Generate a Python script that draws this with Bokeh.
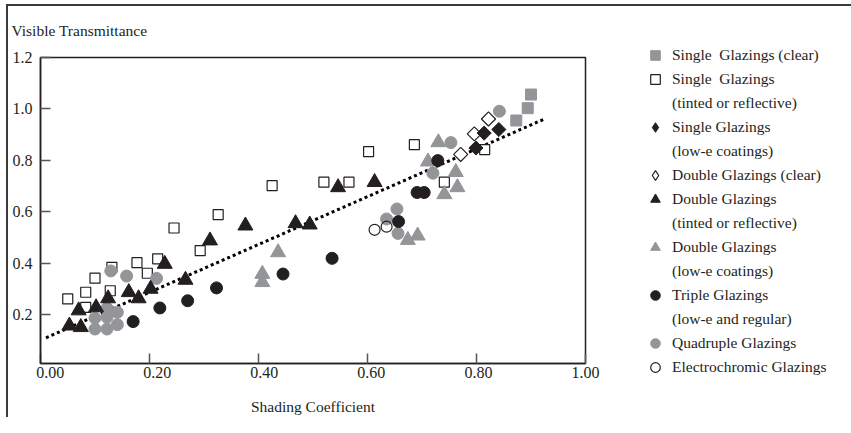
import math
from bokeh.plotting import figure
from bokeh.models import (Range1d, FixedTicker, NumeralTickFormatter, Legend,
                          LegendItem, LinearAxis)
from bokeh.embed import file_html
from bokeh.resources import INLINE

# ---------------- data ----------------
single_clear_x = [0.873, 0.894, 0.900]
single_clear_y = [0.955, 1.003, 1.056]

single_tinted_x = [0.050, 0.083, 0.083, 0.100, 0.128, 0.131, 0.177, 0.196, 0.215, 0.245,
                   0.293, 0.326, 0.425, 0.520, 0.566, 0.602, 0.686, 0.741, 0.815]
single_tinted_y = [0.261, 0.228, 0.287, 0.342, 0.293, 0.384, 0.402, 0.361, 0.417, 0.537,
                   0.449, 0.589, 0.702, 0.715, 0.715, 0.834, 0.861, 0.715, 0.842]

single_lowe_x = [0.799, 0.814, 0.841]
single_lowe_y = [0.848, 0.906, 0.920]

double_clear_x = [0.771, 0.796, 0.822]
double_clear_y = [0.823, 0.903, 0.961]

double_tinted_x = [0.053, 0.070, 0.074, 0.102, 0.124, 0.162, 0.180, 0.202, 0.228, 0.266,
                   0.311, 0.376, 0.468, 0.494, 0.546, 0.613]
double_tinted_y = [0.157, 0.216, 0.151, 0.228, 0.263, 0.287, 0.263, 0.300, 0.397, 0.335,
                   0.488, 0.546, 0.555, 0.550, 0.695, 0.715]

double_lowe_x = [0.407, 0.407, 0.436, 0.674, 0.692, 0.711, 0.730, 0.741, 0.762, 0.765]
double_lowe_y = [0.326, 0.358, 0.442, 0.490, 0.507, 0.795, 0.870, 0.668, 0.754, 0.695]

triple_x = [0.170, 0.219, 0.270, 0.323, 0.445, 0.535, 0.657, 0.691, 0.704, 0.729]
triple_y = [0.173, 0.226, 0.254, 0.304, 0.358, 0.419, 0.562, 0.675, 0.675, 0.799]

quad_x = [0.100, 0.122, 0.141, 0.100, 0.122, 0.141, 0.122, 0.129, 0.158, 0.213,
          0.635, 0.654, 0.656, 0.720, 0.753, 0.842]
quad_y = [0.144, 0.144, 0.161, 0.187, 0.190, 0.209, 0.225, 0.370, 0.350, 0.341,
          0.572, 0.611, 0.516, 0.750, 0.869, 0.991]

electro_x = [0.613, 0.635]
electro_y = [0.530, 0.542]

trend_x = [0.010, 0.927]
trend_y = [0.110, 0.963]

x_ticks = [0.0, 0.2, 0.4, 0.6, 0.8, 1.0]
y_ticks = [0.2, 0.4, 0.6, 0.8, 1.0, 1.2]

labels = [
    "Single  Glazings (clear)",
    "Single  Glazings\n(tinted or reflective)",
    "Single Glazings\n(low-e coatings)",
    "Double Glazings (clear)",
    "Double Glazings\n(tinted or reflective)",
    "Double Glazings\n(low-e coatings)",
    "Triple Glazings\n(low-e and regular)",
    "Quadruple Glazings",
    "Electrochromic Glazings",
]

# ---------------- style ----------------
FONT = "Liberation Serif"
BLACK = "#231f20"
GRAY = "#939598"
FRAME = "#3a3a3a"

p = figure(frame_width=545, frame_height=306, output_backend="svg",
           toolbar_location=None,
           x_range=Range1d(0.0, 1.0), y_range=Range1d(0.01, 1.2),
           min_border_left=40, min_border_right=258, min_border_top=57,
           min_border_bottom=54)
p.xgrid.visible = False
p.ygrid.visible = False
p.outline_line_color = BLACK
p.outline_line_width = 1.5
p.background_fill_color = "white"
p.border_fill_color = None
# the outer figure box (top and left edges) seen in the reference
p.styles = {
    "background": (
        f"linear-gradient({FRAME},{FRAME}) 6px 4px / calc(100% - 6px) 2px no-repeat, "
        f"linear-gradient({FRAME},{FRAME}) 6px 4px / 2px calc(100% - 4px) no-repeat, "
        "white"
    )
}

p.title.text = "Visible Transmittance"
p.title.align = "left"
p.title.offset = -29
p.title.standoff = 37
p.title.text_font = FONT
p.title.text_font_size = "15.5px"
p.title.text_font_style = "normal"
p.title.text_color = BLACK

main_x = p.xaxis[0]
main_y = p.yaxis[0]
for ax in (main_x, main_y):
    ax.axis_line_color = BLACK
    ax.axis_line_width = 1.5
    ax.major_tick_in = 10
    ax.major_tick_out = 0
    ax.major_tick_line_color = "#555555"
    ax.major_tick_line_width = 1.5
    ax.minor_tick_line_color = None
    ax.major_label_text_font = FONT
    ax.major_label_text_font_size = "16px"
    ax.major_label_text_color = BLACK

main_x.ticker = FixedTicker(ticks=x_ticks)
main_y.ticker = FixedTicker(ticks=y_ticks)
main_y.formatter = NumeralTickFormatter(format="0.0")
main_y.major_label_standoff = 8
# main x axis draws the inward ticks only; its labels are not painted
main_x.major_label_text_color = None
main_x.major_label_text_font_size = "1px"
main_x.major_label_standoff = 0

# companion axis carrying the x tick labels, set a little right of each tick
p.extra_x_ranges = {"xlab": Range1d(-0.018, 1.0)}
xlab = LinearAxis(x_range_name="xlab", ticker=FixedTicker(ticks=x_ticks),
                  formatter=NumeralTickFormatter(format="0.00"),
                  axis_line_color=None, major_tick_line_color=None,
                  minor_tick_line_color=None, major_tick_in=0, major_tick_out=0,
                  major_label_standoff=3, major_label_text_font=FONT,
                  major_label_text_font_size="16px", major_label_text_color=BLACK,
                  axis_label="Shading Coefficient", axis_label_text_font=FONT,
                  axis_label_text_font_size="15.5px",
                  axis_label_text_font_style="normal",
                  axis_label_text_color=BLACK, axis_label_standoff=17)
p.add_layout(xlab, "below")

# trend line
p.line(trend_x, trend_y, line_color="black", line_width=3, line_dash="3 3")

rot = math.pi / 4
r1 = p.scatter(single_clear_x, single_clear_y, marker="square", size=11,
               fill_color=GRAY, line_color=GRAY)
r2 = p.scatter(single_tinted_x, single_tinted_y, marker="square", size=10,
               fill_color="white", line_color=BLACK, line_width=1.2)
r6 = p.scatter(double_lowe_x, double_lowe_y, marker="triangle", size=15,
               fill_color=GRAY, line_color=GRAY)
r8 = p.scatter(quad_x, quad_y, marker="circle", size=12,
               fill_color=GRAY, line_color=GRAY)
r5 = p.scatter(double_tinted_x, double_tinted_y, marker="triangle", size=15,
               fill_color=BLACK, line_color=BLACK)
r7 = p.scatter(triple_x, triple_y, marker="circle", size=12,
               fill_color=BLACK, line_color=BLACK)
r9 = p.scatter(electro_x, electro_y, marker="circle", size=11,
               fill_color="white", fill_alpha=0.0, line_color=BLACK, line_width=1.2)

# diamond-marker versions of the two diamond series (they give the legend its
# diamond glyph, since the legend ignores marker angle); drawn first, they sit
# entirely beneath the rotated squares below
leg4 = p.scatter(double_clear_x, double_clear_y, marker="diamond", size=9,
                 fill_color="white", line_color=BLACK, line_width=1.2)
leg3 = p.scatter(single_lowe_x, single_lowe_y, marker="diamond", size=9,
                 fill_color=BLACK, line_color=BLACK)
r4 = p.scatter(double_clear_x, double_clear_y, marker="square", size=10, angle=rot,
               fill_color="white", line_color=BLACK, line_width=1.2)
r3 = p.scatter(single_lowe_x, single_lowe_y, marker="square", size=10, angle=rot,
               fill_color=BLACK, line_color=BLACK)

# blank glyph for the second line of two-line legend labels
blank = p.scatter([], [], marker="circle", fill_alpha=0, line_alpha=0)

legend_renderers = [r1, r2, leg3, leg4, r5, r6, r7, r8, r9]
items = []
for lab, rend in zip(labels, legend_renderers):
    lines = lab.split("\n")
    items.append(LegendItem(label=lines[0], renderers=[rend]))
    for extra in lines[1:]:
        items.append(LegendItem(label=extra, renderers=[blank]))

legend = Legend(items=items, location=(56, -16), padding=0, margin=0,
                border_line_alpha=0, background_fill_alpha=0,
                label_text_font=FONT, label_text_font_size="15.5px",
                label_text_color=BLACK, glyph_width=28, glyph_height=24,
                label_height=24, label_standoff=3, spacing=0)
p.add_layout(legend, "right")

open("out.html", "w").write(file_html(p, INLINE))
